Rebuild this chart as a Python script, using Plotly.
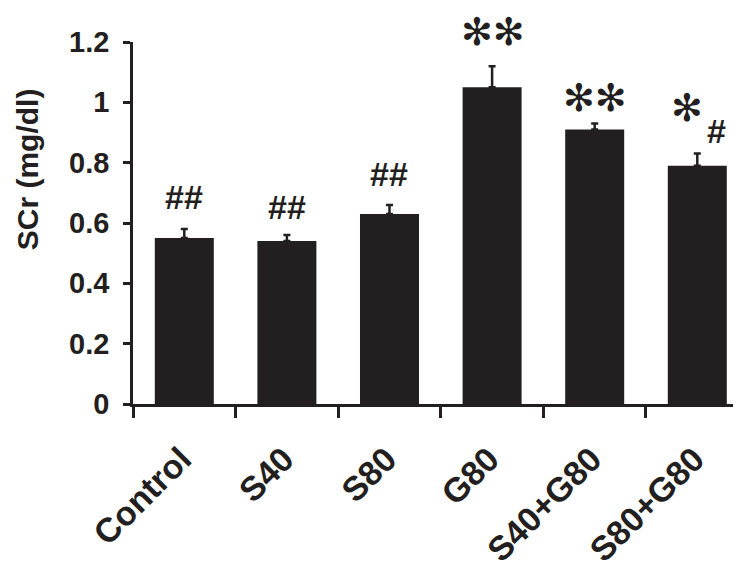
import plotly.graph_objects as go

groups = ["Control", "S40", "S80", "G80", "S40+G80", "S80+G80"]
scr_mean = [0.55, 0.54, 0.63, 1.05, 0.91, 0.79]
scr_err = [0.03, 0.02, 0.03, 0.07, 0.02, 0.04]
y_ticks = [0, 0.2, 0.4, 0.6, 0.8, 1.0, 1.2]
y_tick_text = ["0", "0.2", "0.4", "0.6", "0.8", "1", "1.2"]
Y_MAX = 1.2

# significance marks: (group, text, level in data units, kind)
marks = [
    ("Control", "##", 0.686, "hash"),
    ("S40", "##", 0.653, "hash"),
    ("S80", "##", 0.762, "hash"),
    ("G80", "\u273b\u273b", 1.234, "star"),
    ("S40+G80", "\u273b\u273b", 1.014, "star"),
    ("S80+G80", "\u273b", 0.981, "star"),
    ("S80+G80", "#", 0.905, "hash"),
]
mark_xshift = [0, 0, -1, 1, 0, -10, 19]

INK = "#231f20"
FONT = "Liberation Sans, Arial, Helvetica, sans-serif"

fig = go.Figure()
fig.add_trace(go.Bar(
    x=groups, y=scr_mean,
    marker=dict(color=INK, line=dict(width=0)),
    error_y=dict(type="data", symmetric=False, array=scr_err,
                 arrayminus=[0] * len(scr_err),
                 color=INK, thickness=2.5, width=3.5),
    showlegend=False,
))

for (g, txt, yv, kind), dx in zip(marks, mark_xshift):
    if kind == "hash":
        f = dict(family=FONT, size=34, color=INK, weight="bold")
    else:
        f = dict(family="DejaVu Sans", size=38, color=INK)
    fig.add_annotation(x=g, xref="x", y=yv / Y_MAX, yref="paper", text=txt,
                       showarrow=False, xshift=dx,
                       xanchor="center", yanchor="middle", font=f)

fig.add_annotation(xref="paper", yref="paper", x=-0.174, y=0.649,
                   text="SCr (mg/dl)", textangle=-90, showarrow=False,
                   xanchor="center", yanchor="middle",
                   font=dict(family=FONT, size=30, color=INK, weight="bold"))

# page body adds an 8px offset; margins compensate for it
fig.update_layout(
    width=733, height=553,
    margin=dict(l=125, r=0, t=34, b=157, autoexpand=False),
    paper_bgcolor="white", plot_bgcolor="white",
    bargap=0.425,
    xaxis=dict(type="category", range=[-0.5, 5.426], tickson="boundaries",
               ticks="outside", ticklen=11, tickwidth=2.5, tickcolor=INK,
               showline=True, linewidth=2.5, linecolor=INK,
               showgrid=False, zeroline=False, tickangle=-45,
               ticklabelstandoff=19, ticklabelshift=-3, automargin=False,
               tickfont=dict(family=FONT, size=34, color=INK, weight="bold")),
    yaxis=dict(range=[0, Y_MAX], tickvals=y_ticks, ticktext=y_tick_text,
               ticks="outside", ticklen=7, tickwidth=2.5, tickcolor=INK,
               showline=True, linewidth=2.5, linecolor=INK, automargin=False,
               showgrid=False, zeroline=False, ticklabelstandoff=8,
               tickfont=dict(family=FONT, size=29, color=INK, weight="bold")),
)

fig.write_html("out.html")
